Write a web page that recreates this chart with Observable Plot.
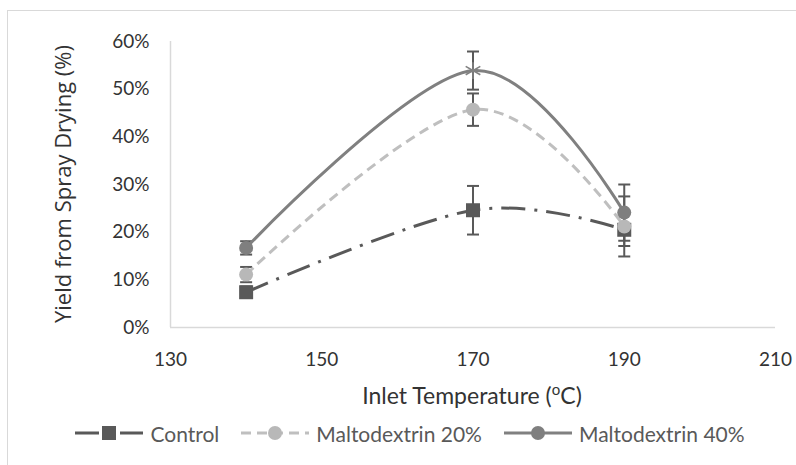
<!DOCTYPE html>
<html>
<head>
<meta charset="utf-8">
<script src="https://cdn.jsdelivr.net/npm/d3@7"></script>
<script src="https://cdn.jsdelivr.net/npm/@observablehq/plot@0.6"></script>
<style>
  html, body { margin: 0; padding: 0; background: #fff; }
  body { width: 796px; height: 465px; overflow: hidden; position: relative; font-family: Lato, sans-serif; }
  #frame { position: absolute; left: 7px; top: 10px; width: 900px; height: 600px; border: 1.5px solid #d9d9d9; box-sizing: border-box; }
  #chart { position: absolute; left: 0; top: 0; }
  #legend { position: absolute; left: 12px; top: 410px; width: 796px; height: 46px; display: flex; align-items: center; justify-content: center; color: #595959; font-size: 21px; font-family: Lato, sans-serif; }
  .item { display: flex; align-items: center; margin: 0 11px; }
  .item svg { margin-right: 7px; }
</style>
</head>
<body>
<div id="frame"></div>
<div id="chart"></div>
<div id="legend"></div>
<script>
// ---- data ----
const temps = [140, 170, 190];
const seriesNames = ["Control", "Maltodextrin 20%", "Maltodextrin 40%"];
const controlYield = [0.074, 0.246, 0.205];
const controlErr   = [0.012, 0.051, 0.034];
const malto20Yield = [0.111, 0.457, 0.212];
const malto20Err   = [0.016, 0.034, 0.063];
const malto40Yield = [0.167, 0.539, 0.241];
const malto40Err   = [0.014, 0.040, 0.059];
const xTicks = [130, 150, 170, 190, 210];
const yTicks = [0, 0.1, 0.2, 0.3, 0.4, 0.5, 0.6];

// ---- styles ----
const styles = [
  {stroke: "#595959", fill: "#595959", dash: "24,9,3,9", symbol: "square", r: 7.9},
  {stroke: "#bfbfbf", fill: "#b8b8b8", dash: "10,6", symbol: "circle", r: 7},
  {stroke: "#808080", fill: "#7f7f7f", dash: null, symbol: "circle", r: 7}
];
const values = [controlYield, malto20Yield, malto40Yield];
const errs = [controlErr, malto20Err, malto40Err];

const rows = seriesNames.map((name, s) =>
  temps.map((t, i) => ({series: name, s, i, x: t, y: values[s][i], e: errs[s][i]}))
);

const capSymbol = {draw(ctx) { ctx.moveTo(-6, 0); ctx.lineTo(6, 0); }};
const errColor = "#595959";

const marks = [
  Plot.ruleY([0], {x1: 130, x2: 210, stroke: "#d9d9d9", strokeWidth: 1.5}),
  Plot.ruleX([130], {y1: 0, y2: 0.6, stroke: "#d9d9d9", strokeWidth: 1.5}),
  Plot.axisX({ticks: xTicks, tickSize: 0, tickPadding: 25, fontSize: 19, fill: "#333", label: null, tickFormat: d => String(d)}),
  Plot.axisY({ticks: yTicks, tickSize: 0, tickPadding: 21, fontSize: 19, fill: "#333", label: null, tickFormat: d3.format(".0%")})
];

rows.forEach((data, s) => {
  const st = styles[s];
  marks.push(
    Plot.ruleX(data, {x: "x", y1: d => d.y - d.e, y2: d => d.y + d.e, stroke: errColor, strokeWidth: 2}),
    Plot.dot(data, {x: "x", y: d => d.y + d.e, symbol: capSymbol, stroke: errColor, strokeWidth: 2, fill: "none"}),
    Plot.dot(data, {x: "x", y: d => d.y - d.e, symbol: capSymbol, stroke: errColor, strokeWidth: 2, fill: "none"}),
    Plot.line(data, {x: "x", y: "y", curve: "cardinal", tension: 0, stroke: st.stroke, strokeWidth: 3,
      strokeDasharray: st.dash ?? undefined, strokeLinecap: "butt"})
  );
});
rows.forEach((data, s) => {
  const st = styles[s];
  if (s === 2) {
    marks.push(
      Plot.dot(data.filter(d => d.x !== 170), {x: "x", y: "y", symbol: st.symbol, r: st.r, fill: st.fill, stroke: "none"}),
      Plot.dot(data.filter(d => d.x === 170), {x: "x", y: "y", symbol: "asterisk", r: 8, stroke: st.stroke, strokeWidth: 1.6, fill: "none"})
    );
  } else {
    marks.push(Plot.dot(data, {x: "x", y: "y", symbol: st.symbol, r: st.r, fill: st.fill, stroke: "none"}));
  }
});

const chart = Plot.plot({
  width: 796, height: 410,
  marginLeft: 170, marginRight: 21, marginTop: 41, marginBottom: 83,
  x: {domain: [130, 210]},
  y: {domain: [0, 0.6]},
  style: {fontFamily: "Lato, sans-serif", background: "transparent", color: "#333"},
  marks
});

// axis titles
const svg = d3.select(chart);
const xt = svg.append("text")
  .attr("x", 472).attr("y", 404)
  .attr("text-anchor", "middle")
  .attr("fill", "#333")
  .style("font-family", "Lato, sans-serif").style("font-size", "23px");
xt.append("tspan").text("Inlet Temperature (");
xt.append("tspan").attr("baseline-shift", "super").style("font-size", "15px").text("o");
xt.append("tspan").text("C)");

svg.append("text")
  .attr("transform", "translate(62,184) rotate(-90)")
  .attr("text-anchor", "middle")
  .attr("dominant-baseline", "central")
  .attr("fill", "#333")
  .style("font-family", "'Open Sans', sans-serif").style("font-size", "22px")
  .text("Yield from Spray Drying (%)");

document.getElementById("chart").appendChild(chart);

// legend
const legend = d3.select("#legend");
seriesNames.forEach((name, s) => {
  const st = styles[s];
  const item = legend.append("div").attr("class", "item");
  const sw = item.append("svg").attr("width", 68).attr("height", 20);
  sw.append("line").attr("x1", 0).attr("x2", 68).attr("y1", 10).attr("y2", 10)
    .attr("stroke", st.stroke).attr("stroke-width", 3)
    .attr("stroke-dasharray", st.dash);
  const sym = d3.symbol(st.symbol === "square" ? d3.symbolSquare : d3.symbolCircle, Math.PI * st.r * st.r);
  sw.append("path").attr("transform", "translate(34,10)").attr("d", sym()).attr("fill", st.fill);
  item.append("span").text(name);
});
</script>
</body>
</html>
